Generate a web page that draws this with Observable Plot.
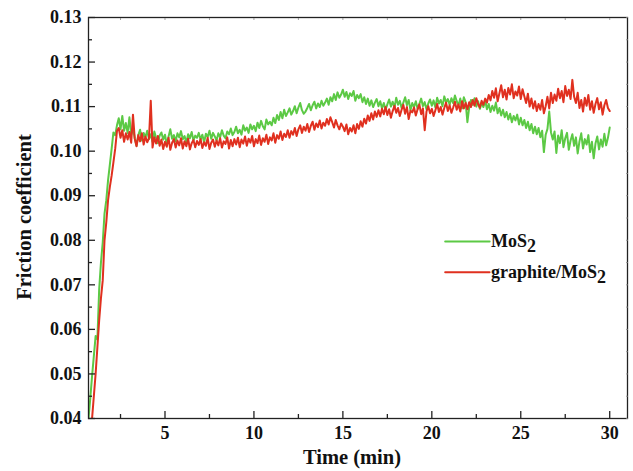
<!DOCTYPE html>
<html>
<head>
<meta charset="utf-8">
<script src="https://cdn.jsdelivr.net/npm/d3@7"></script>
<script src="https://cdn.jsdelivr.net/npm/@observablehq/plot@0.6"></script>
<style>
  html, body { margin: 0; padding: 0; background: #fff; }
  #chart { width: 633px; height: 471px; }
  svg { font-family: "Liberation Serif", "DejaVu Serif", serif; }
</style>
</head>
<body>
<div id="chart"></div>
<script>
// Sampling: one reading every 0.1 min
const timeStep = 0.1;
const mosStart = 0.7;     // first MoS2 reading (min)
const graphStart = 0.9;   // first graphite/MoS2 reading (min)

const mosValues = [
  0.0400,0.0445,0.0495,0.0540,0.0585,0.0578,0.0690,0.0750,0.0795,0.0860,0.0890,0.0935,0.0970,
  0.1005,0.1042,0.1036,0.1058,0.1074,0.1049,0.1079,0.1046,0.1063,0.1041,
  0.1076,0.1037,0.1052,0.1029,0.1012,0.1036,0.1048,0.1024,0.1041,0.1031,
  0.1046,0.1027,0.1038,0.1021,0.1044,0.1030,0.1018,0.1035,0.1042,0.1026,
  0.1037,0.1015,0.1033,0.1049,0.1028,0.1036,0.1022,0.1040,0.1031,0.1045,
  0.1027,0.1034,0.1019,0.1038,0.1029,0.1043,0.1024,0.1035,0.1030,0.1041,
  0.1026,0.1037,0.1020,0.1039,0.1032,0.1046,0.1028,0.1041,0.1033,0.1024,
  0.1040,0.1031,0.1047,0.1035,0.1029,0.1044,0.1038,0.1051,0.1036,0.1043,
  0.1055,0.1040,0.1048,0.1037,0.1058,0.1046,0.1053,0.1041,0.1060,0.1049,
  0.1057,0.1045,0.1064,0.1052,0.1068,0.1056,0.1049,0.1071,0.1060,0.1066,
  0.1058,0.1075,0.1063,0.1081,0.1070,0.1088,0.1074,0.1093,0.1079,0.1087,
  0.1096,0.1082,0.1090,0.1101,0.1085,0.1098,0.1108,0.1092,0.1084,0.1089,
  0.1097,0.1106,0.1092,0.1103,0.1111,0.1096,0.1107,0.1099,0.1113,0.1102,
  0.1109,0.1118,0.1104,0.1121,0.1112,0.1128,0.1115,0.1132,0.1120,0.1127,
  0.1138,0.1122,0.1133,0.1117,0.1130,0.1124,0.1135,0.1113,0.1126,0.1119,
  0.1128,0.1110,0.1121,0.1106,0.1118,0.1102,0.1114,0.1099,0.1109,0.1117,
  0.1101,0.1112,0.1096,0.1108,0.1093,0.1105,0.1116,0.1100,0.1111,0.1098,
  0.1120,0.1104,0.1113,0.1097,0.1109,0.1121,0.1103,0.1115,0.1092,0.1108,
  0.1099,0.1112,0.1095,0.1106,0.1118,0.1101,0.1110,0.1094,0.1107,0.1116,
  0.1102,0.1114,0.1098,0.1120,0.1107,0.1115,0.1101,0.1123,0.1109,0.1117,
  0.1104,0.1119,0.1108,0.1125,0.1112,0.1103,0.1118,0.1096,0.1121,0.1110,
  0.1065,0.1098,0.1115,0.1104,0.1119,0.1100,0.1112,0.1095,0.1108,0.1099,
  0.1113,0.1094,0.1106,0.1088,0.1102,0.1091,0.1109,0.1085,0.1097,0.1080,
  0.1093,0.1076,0.1088,0.1071,0.1084,0.1065,0.1079,0.1069,0.1082,0.1060,
  0.1075,0.1058,0.1070,0.1052,0.1066,0.1047,0.1061,0.1040,0.1055,0.1038,
  0.1052,0.1031,0.1046,0.0998,0.1037,0.1050,0.1089,0.1042,0.1026,0.1044,
  0.0996,0.1035,0.1018,0.1047,0.1009,0.1029,0.1041,0.1003,0.1024,0.1038,
  0.1012,0.1031,0.0995,0.1022,0.1040,0.1006,0.1027,0.1015,0.1036,0.0998,
  0.1021,0.0984,0.1017,0.1033,0.1004,0.1026,0.1010,0.1039,0.1013,0.1030,
  0.1053
];

const graphiteValues = [
  0.0400,0.0450,0.0500,0.0560,0.0620,0.0670,0.0710,0.0800,0.0840,0.0890,0.0920,
  0.0945,0.0975,0.1005,0.1045,0.1052,0.1030,0.1047,0.1021,0.1040,0.1026,
  0.1043,0.1019,0.1082,0.1028,0.1011,0.1036,0.1022,0.1040,0.1015,0.1033,
  0.1020,0.1029,0.1113,0.1008,0.1031,0.1017,0.1034,0.1012,0.1026,0.1005,
  0.1021,0.1010,0.1030,0.1003,0.1019,0.1027,0.1008,0.1024,0.1013,0.1029,
  0.1006,0.1022,0.1011,0.1028,0.1004,0.1018,0.1025,0.1009,0.1023,0.1014,
  0.1027,0.1007,0.1020,0.1012,0.1030,0.1005,0.1019,0.1026,0.1010,0.1024,
  0.1013,0.1029,0.1008,0.1022,0.1016,0.1031,0.1006,0.1025,0.1011,0.1027,
  0.1015,0.1030,0.1009,0.1026,0.1017,0.1033,0.1012,0.1028,0.1019,0.1034,
  0.1011,0.1027,0.1018,0.1035,0.1014,0.1029,0.1021,0.1037,0.1016,0.1031,
  0.1024,0.1040,0.1019,0.1036,0.1028,0.1044,0.1025,0.1039,0.1032,0.1047,
  0.1030,0.1045,0.1037,0.1052,0.1034,0.1049,0.1058,0.1041,0.1055,0.1046,
  0.1061,0.1043,0.1057,0.1066,0.1048,0.1062,0.1054,0.1069,0.1051,0.1064,
  0.1057,0.1072,0.1060,0.1076,0.1065,0.1053,0.1070,0.1058,0.1049,0.1062,
  0.1055,0.1045,0.1060,0.1038,0.1052,0.1044,0.1058,0.1040,0.1061,0.1050,
  0.1067,0.1055,0.1073,0.1062,0.1080,0.1068,0.1085,0.1071,0.1089,0.1077,
  0.1092,0.1078,0.1095,0.1083,0.1099,0.1081,0.1094,0.1075,0.1090,0.1102,
  0.1086,0.1097,0.1079,0.1093,0.1104,0.1084,0.1099,0.1072,0.1091,0.1087,
  0.1098,0.1080,0.1094,0.1105,0.1083,0.1096,0.1047,0.1089,0.1101,0.1085,
  0.1095,0.1079,0.1092,0.1106,0.1088,0.1099,0.1082,0.1097,0.1109,0.1090,
  0.1103,0.1086,0.1098,0.1111,0.1093,0.1105,0.1089,0.1112,0.1096,0.1108,
  0.1094,0.1110,0.1099,0.1115,0.1102,0.1119,0.1106,0.1098,0.1113,0.1104,
  0.1118,0.1109,0.1126,0.1114,0.1135,0.1120,0.1141,0.1112,0.1130,0.1148,
  0.1121,0.1138,0.1116,0.1142,0.1127,0.1150,0.1119,0.1134,0.1125,0.1145,
  0.1117,0.1139,0.1123,0.1108,0.1129,0.1100,0.1118,0.1096,0.1112,0.1090,
  0.1106,0.1093,0.1115,0.1085,0.1101,0.1122,0.1096,0.1131,0.1108,0.1127,
  0.1113,0.1140,0.1119,0.1135,0.1110,0.1146,0.1124,0.1138,0.1117,0.1160,
  0.1122,0.1108,0.1131,0.1097,0.1115,0.1089,0.1120,0.1102,0.1126,0.1093,
  0.1112,0.1086,0.1106,0.1119,0.1094,0.1110,0.1082,0.1103,0.1115,0.1097,
  0.1090
];

const xTicks = [5, 10, 15, 20, 25, 30];
const xMinorTicks = [2.5, 7.5, 12.5, 17.5, 22.5, 27.5];
const yTicks = [0.04, 0.05, 0.06, 0.07, 0.08, 0.09, 0.10, 0.11, 0.12, 0.13];
const yMinorTicks = [0.045, 0.055, 0.065, 0.075, 0.085, 0.095, 0.105, 0.115, 0.125];
const seriesNames = ["MoS2", "graphite/MoS2"];
const seriesColors = ["#5cc945", "#e0301f"];

const rows = [];
mosValues.forEach((v, i) => rows.push({t: +(mosStart + i * timeStep).toFixed(2), f: v, s: seriesNames[0]}));
graphiteValues.forEach((v, i) => rows.push({t: +(graphStart + i * timeStep).toFixed(2), f: v, s: seriesNames[1]}));

// legend entries (position in data units, inside the plot)
const legendRows = [
  {s: seriesNames[0], y: 0.0797, label: "MoS", sub: "2"},
  {s: seriesNames[1], y: 0.0728, label: "graphite/MoS", sub: "2"}
];
const legendX0 = 20.75, legendX1 = 23.25, legendTextX = 23.35;

const fontW = "bold";
const chart = Plot.plot({
  width: 633,
  height: 471,
  marginLeft: 88,
  marginRight: 6,
  marginTop: 17,
  marginBottom: 53,
  style: {fontFamily: "'Liberation Serif', 'DejaVu Serif', serif", background: "#fff", overflow: "visible"},
  x: {domain: [0.7, 31.0]},
  y: {domain: [0.04, 0.13]},
  color: {domain: seriesNames, range: seriesColors},
  marks: [
    Plot.line(rows, {x: "t", y: "f", z: "s", stroke: "s", strokeWidth: 2, clip: true}),
    Plot.frame({stroke: "#222", strokeWidth: 1.3}),
    Plot.axisX(xTicks, {anchor: "bottom", tickSize: -7, text: null, stroke: "#222", strokeWidth: 1.3}),
    Plot.axisX(xMinorTicks, {anchor: "bottom", tickSize: -4, text: null, stroke: "#222", strokeWidth: 1.3}),
    Plot.axisX(xTicks, {anchor: "bottom", tickSize: 0, tickPadding: 8, fontSize: 18, fontWeight: fontW, fill: "#111", label: null, tickFormat: d => String(d)}),
    Plot.axisX(xTicks.concat(xMinorTicks), {anchor: "top", tickSize: -2, text: null, stroke: "#888", strokeWidth: 0.8}),
    Plot.axisY(yTicks, {anchor: "left", tickSize: -7, text: null, stroke: "#222", strokeWidth: 1.3}),
    Plot.axisY(yMinorTicks, {anchor: "left", tickSize: -4, text: null, stroke: "#222", strokeWidth: 1.3}),
    Plot.axisY(yTicks, {anchor: "left", tickSize: 0, tickPadding: 7, fontSize: 18, fontWeight: fontW, fill: "#111", label: null, tickFormat: d => d.toFixed(2)}),
    Plot.axisY(yTicks.concat(yMinorTicks), {anchor: "right", tickSize: -2, text: null, stroke: "#888", strokeWidth: 0.8}),
    Plot.line(legendRows.flatMap(r => [{x: legendX0, y: r.y, s: r.s}, {x: legendX1, y: r.y, s: r.s}]), {x: "x", y: "y", z: "s", stroke: "s", strokeWidth: 2})
  ]
});

const svg = d3.select(chart);
svg.append("text")
  .attr("x", 352).attr("y", 464)
  .attr("text-anchor", "middle")
  .attr("font-size", 20.5).attr("font-weight", "bold").attr("fill", "#111")
  .text("Time (min)");
svg.append("text")
  .attr("transform", "translate(31,217) rotate(-90)")
  .attr("text-anchor", "middle")
  .attr("font-size", 20.5).attr("font-weight", "bold").attr("fill", "#111")
  .text("Friction coefficient");

const xs = d3.scaleLinear().domain([0.7, 31.0]).range([88, 627]);
const ys = d3.scaleLinear().domain([0.04, 0.13]).range([418, 17]);
legendRows.forEach(r => {
  const t = svg.append("text")
    .attr("x", xs(legendTextX)).attr("y", ys(r.y) + 6)
    .attr("text-anchor", "start")
    .attr("font-size", 18).attr("font-weight", "bold").attr("fill", "#111");
  t.append("tspan").text(r.label);
  t.append("tspan").attr("dy", 5).text(r.sub);
});

document.getElementById("chart").appendChild(chart);
</script>
</body>
</html>
